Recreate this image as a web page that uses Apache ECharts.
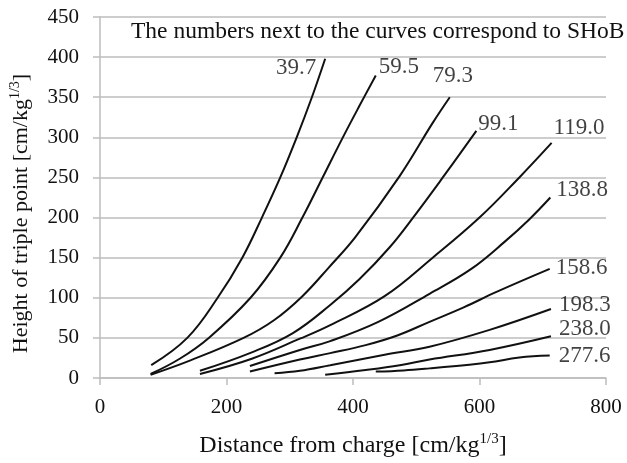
<!DOCTYPE html>
<html>
<head>
<meta charset="utf-8">
<script src="https://cdn.jsdelivr.net/npm/echarts@6/dist/echarts.min.js"></script>
<style>
  html, body { margin: 0; padding: 0; background: #fff; }
  #chart { width: 627px; height: 463px; }
</style>
</head>
<body>
<div id="chart"></div>
<script>
// Scaled height of the triple point against scaled distance, one curve per SHoB.
const shobLabels = ['39.7', '59.5', '79.3', '99.1', '119.0', '138.8', '158.6', '198.3', '238.0', '277.6'];

const curve39_7 = [[81, 16], [138, 50], [186, 100], [225, 150], [256, 200], [285, 250], [311, 300], [335, 350], [356, 398]];
const curve59_5 = [[80, 5], [126, 24], [172, 50], [238, 100], [285, 150], [320, 200], [352, 250], [384, 300], [410, 339], [436, 377]];
const curve79_3 = [[80, 4], [143, 22], [227, 50], [275, 72], [320, 102], [362, 138], [404, 176], [474, 252], [526, 318], [553, 350]];
const curve99_1 = [[158, 9], [240, 32], [305, 56], [364, 91], [410, 123], [458, 163], [495, 200], [542, 250], [595, 308]];
const curve119_0 = [[158, 5], [240, 24], [316, 49], [364, 66], [450, 102], [526, 150], [600, 200], [663, 250], [714, 293]];
const curve138_8 = [[237, 15], [316, 35], [364, 46], [440, 70], [521, 105], [587, 136], [640, 170], [679, 198], [712, 225]];
const curve158_6 = [[237, 8], [316, 23], [364, 31], [420, 41], [470, 53], [521, 70], [575, 88], [626, 107], [711, 136]];
const curve198_3 = [[276, 6], [316, 9], [364, 16], [450, 29], [521, 39], [616, 60], [713, 86]];
const curve238_0 = [[356, 4], [420, 10], [474, 16], [521, 23], [616, 35], [713, 52]];
const curve277_6 = [[436, 8], [480, 9.5], [521, 12], [584, 16.5], [616, 19.5], [663, 25.5], [711, 28]];

const curves = [curve39_7, curve59_5, curve79_3, curve99_1, curve119_0, curve138_8, curve158_6, curve198_3, curve238_0, curve277_6];

const xTicks = { min: 0, max: 800, interval: 200 };
const yTicks = { min: 0, max: 450, interval: 50 };

// Where each SHoB number sits relative to the end of its curve (px).
const labelPlacement = [
  { align: 'right', offset: [-9, 9] },
  { align: 'left', offset: [3, -9] },
  { align: 'left', offset: [-17, -21] },
  { align: 'left', offset: [2, -7] },
  { align: 'left', offset: [2, -15] },
  { align: 'left', offset: [6, -8] },
  { align: 'left', offset: [6, -1] },
  { align: 'left', offset: [8, -4] },
  { align: 'left', offset: [8, -7] },
  { align: 'left', offset: [9, 0] }
];

const serif = '"Liberation Serif", "Times New Roman", serif';
const gridColor = '#bdbdbd';
const ink = '#111';

const lineSeries = curves.map((pts, i) => ({
  name: shobLabels[i],
  type: 'line',
  data: pts,
  smooth: 0.4,
  showSymbol: false,
  silent: true,
  lineStyle: { color: ink, width: 2 },
  z: 3
}));

const endLabels = {
  type: 'scatter',
  symbolSize: 0,
  silent: true,
  z: 4,
  data: curves.map((pts, i) => ({
    name: shobLabels[i],
    value: pts[pts.length - 1],
    label: {
      show: true,
      position: 'inside',
      formatter: '{b}',
      align: labelPlacement[i].align,
      verticalAlign: 'middle',
      offset: labelPlacement[i].offset,
      fontFamily: serif,
      fontSize: 23,
      color: ink
    }
  }))
};

function unitRich(size) {
  return {
    base: { fontFamily: serif, fontSize: size, color: ink, lineHeight: size + 4 },
    sup: { fontFamily: serif, fontSize: Math.round(size * 0.62), color: ink, lineHeight: Math.round(size * 0.62), verticalAlign: 'top' }
  };
}

const chart = echarts.init(document.getElementById('chart'), null, { renderer: 'canvas' });
chart.setOption({
  animation: false,
  backgroundColor: '#fff',
  title: {
    text: 'The numbers next to the curves correspond to SHoB',
    left: 131,
    top: 20,
    padding: 0,
    textStyle: { fontFamily: serif, fontSize: 23.5, fontWeight: 'normal', color: ink }
  },
  grid: { left: 99, right: 21, top: 17, bottom: 83, containLabel: false },
  xAxis: {
    type: 'value',
    min: xTicks.min,
    max: xTicks.max,
    interval: xTicks.interval,
    name: '{base|Distance from charge [cm/kg}{sup|1/3}{base|]}',
    nameLocation: 'middle',
    nameGap: 54,
    nameTextStyle: { rich: unitRich(24) },
    axisLine: { show: true, lineStyle: { color: gridColor, width: 1.5 } },
    axisTick: { show: true, length: 7, lineStyle: { color: gridColor, width: 1.5 } },
    splitLine: { show: false },
    axisLabel: { margin: 19, fontFamily: serif, fontSize: 21, color: ink }
  },
  yAxis: {
    type: 'value',
    min: yTicks.min,
    max: yTicks.max,
    interval: yTicks.interval,
    name: '{base|Height of triple point [cm/kg}{sup|1/3}{base|]}',
    nameLocation: 'middle',
    nameRotate: 90,
    nameGap: 66,
    nameTextStyle: { rich: unitRich(22), padding: [0, 32, 0, 0] },
    axisLine: { show: true, lineStyle: { color: gridColor, width: 1.5 } },
    axisTick: { show: true, length: 7, lineStyle: { color: gridColor, width: 1.5 } },
    splitLine: { show: true, lineStyle: { color: gridColor, width: 1.5 } },
    axisLabel: { margin: 21, fontFamily: serif, fontSize: 21, color: ink }
  },
  series: lineSeries.concat([endLabels])
});
</script>
</body>
</html>
